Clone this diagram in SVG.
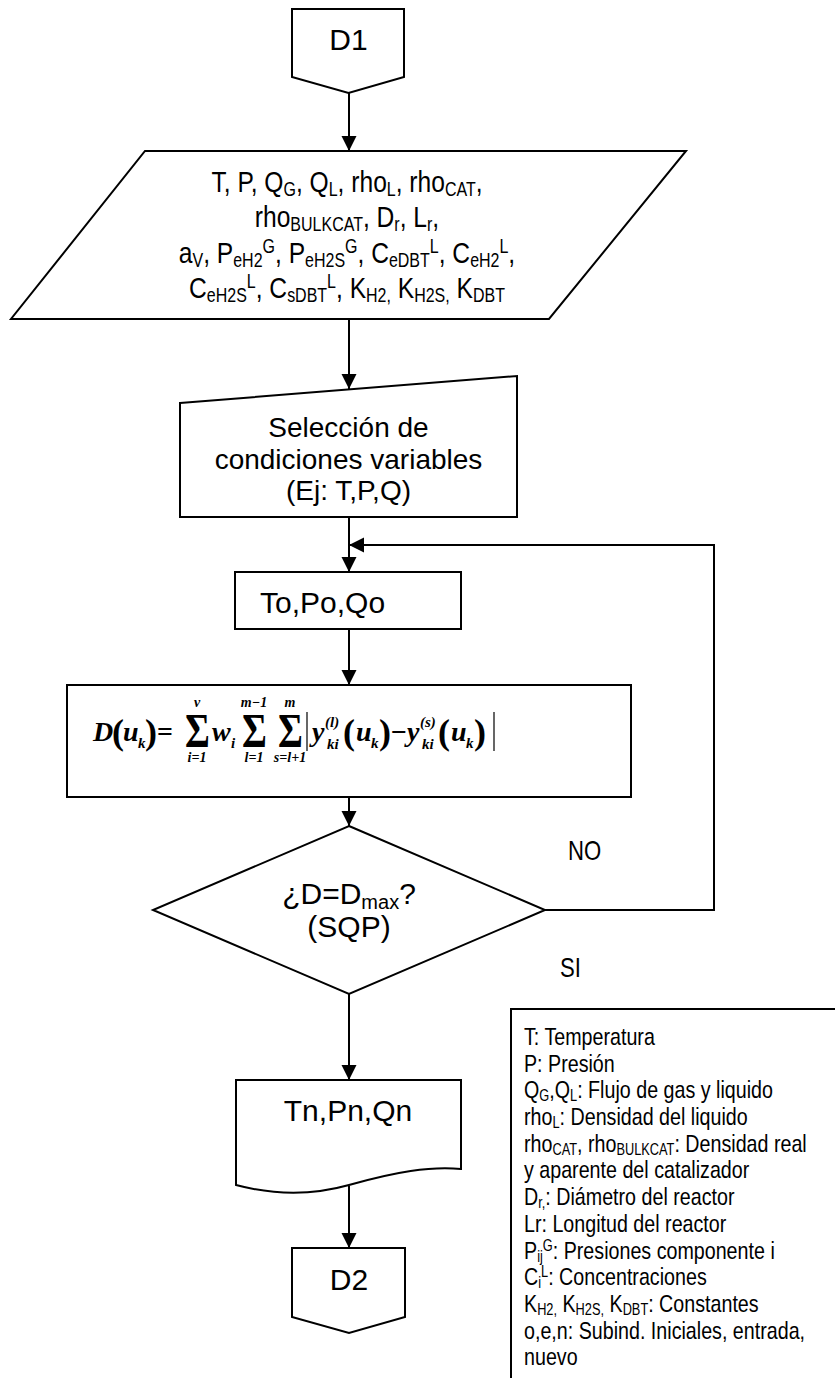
<svg xmlns="http://www.w3.org/2000/svg" width="835" height="1378" viewBox="0 0 835 1378">
  <defs>
    <marker id="arrow" markerUnits="userSpaceOnUse" markerWidth="16" markerHeight="16" refX="15" refY="7.5" orient="auto">
      <path d="M0,0 L15,7.5 L0,15 z" fill="#000"/>
    </marker>
    <style>
      .shape { fill: #fff; stroke: #000; stroke-width: 2; }
      .edge { fill: none; stroke: #000; stroke-width: 2; marker-end: url(#arrow); }
      .line { fill: none; stroke: #000; stroke-width: 2; }
      .bar { fill: none; stroke: #000; stroke-width: 1.2; }
      .t { font-family: "Liberation Sans", Arial, sans-serif; font-size: 30px; fill: #000; }
      .ts { font-family: "Liberation Sans", Arial, sans-serif; font-size: 28px; fill: #000; text-anchor: middle; }
      .n { font-family: "Liberation Sans", Arial, sans-serif; font-size: 30px; fill: #000; text-anchor: middle; }
      .lg { font-family: "Liberation Sans", Arial, sans-serif; font-size: 24px; fill: #000; }
      .lbl { font-family: "Liberation Sans", Arial, sans-serif; font-size: 27px; fill: #000; }
      .fm { font-family: "Liberation Serif", "Times New Roman", serif; font-weight: bold; font-style: italic; font-size: 28px; fill: #000; }
      .fu { font-family: "Liberation Serif", "Times New Roman", serif; font-weight: bold; font-size: 28px; fill: #000; }
      .sig { font-family: "Liberation Serif", "Times New Roman", serif; font-weight: bold; font-size: 38px; fill: #000; }
      .fp { font-family: "Liberation Serif", "Times New Roman", serif; font-weight: bold; font-size: 36px; fill: #000; }
      .fs { font-family: "Liberation Serif", "Times New Roman", serif; font-weight: bold; font-style: italic; font-size: 15px; fill: #000; }
      .lim { font-family: "Liberation Serif", "Times New Roman", serif; font-weight: bold; font-style: italic; font-size: 14px; fill: #000; text-anchor: middle; }
    </style>
  </defs>

  <!-- connectors -->
  <g id="connectors">
    <path class="edge" d="M349,93 V151"/>
    <path class="edge" d="M349,319 V389"/>
    <path class="edge" d="M349,517 V572"/>
    <path class="edge" d="M349,629 V685"/>
    <path class="edge" d="M349,797 V826"/>
    <path class="edge" d="M349,994 V1080"/>
    <path class="edge" d="M349,1186 V1248"/>
    <path class="edge" d="M545,910 H714 V545 H349"/>
  </g>

  <!-- off-page connector D1 -->
  <g id="d1">
    <path class="shape" d="M292,9 H404 V77 L348.5,93 L292,77 Z"/>
    <text class="n" x="348.5" y="50">D1</text>
  </g>

  <!-- input data -->
  <g id="input">
    <path class="shape" d="M145,151 H686 L549,319 H11 Z"/>
    <g transform="translate(347,0) scale(0.82,1)">
      <text class="n" x="0" y="192">T, P, Q<tspan dy="4" font-size="19.5">G</tspan><tspan dy="-4">, Q</tspan><tspan dy="4" font-size="19.5">L</tspan><tspan dy="-4">, rho</tspan><tspan dy="4" font-size="19.5">L</tspan><tspan dy="-4">, rho</tspan><tspan dy="4" font-size="19.5">CAT</tspan><tspan dy="-4">,</tspan></text>
      <text class="n" x="0" y="227.5">rho<tspan dy="4" font-size="19.5">BULKCAT</tspan><tspan dy="-4">, D</tspan><tspan dy="4" font-size="19.5">r</tspan><tspan dy="-4">, L</tspan><tspan dy="4" font-size="19.5">r</tspan><tspan dy="-4">,</tspan></text>
      <text class="n" x="0" y="263">a<tspan dy="4" font-size="19.5">V</tspan><tspan dy="-4">, P</tspan><tspan dy="4" font-size="19.5">eH2</tspan><tspan dy="-14" font-size="19.5">G</tspan><tspan dy="10">, P</tspan><tspan dy="4" font-size="19.5">eH2S</tspan><tspan dy="-14" font-size="19.5">G</tspan><tspan dy="10">, C</tspan><tspan dy="4" font-size="19.5">eDBT</tspan><tspan dy="-14" font-size="19.5">L</tspan><tspan dy="10">, C</tspan><tspan dy="4" font-size="19.5">eH2</tspan><tspan dy="-14" font-size="19.5">L</tspan><tspan dy="10">,</tspan></text>
      <text class="n" x="0" y="298.5">C<tspan dy="4" font-size="19.5">eH2S</tspan><tspan dy="-14" font-size="19.5">L</tspan><tspan dy="10">, C</tspan><tspan dy="4" font-size="19.5">sDBT</tspan><tspan dy="-14" font-size="19.5">L</tspan><tspan dy="10">, K</tspan><tspan dy="4" font-size="19.5">H2,</tspan><tspan dy="-4"> K</tspan><tspan dy="4" font-size="19.5">H2S,</tspan><tspan dy="-4"> K</tspan><tspan dy="4" font-size="19.5">DBT</tspan></text>
    </g>
  </g>

  <!-- manual selection -->
  <g id="seleccion">
    <path class="shape" d="M180,403 L517,376 V517 H180 Z"/>
    <text class="ts" x="348.5" y="437">Selección de</text>
    <text class="ts" x="348.5" y="468.5">condiciones variables</text>
    <text class="ts" x="348.5" y="500">(Ej: T,P,Q)</text>
  </g>

  <!-- initial values -->
  <g id="iniciales">
    <rect class="shape" x="235" y="572" width="226" height="57"/>
    <text class="t" x="260" y="613">To,Po,Qo</text>
  </g>

  <!-- objective function -->
  <g id="funcion">
    <rect class="shape" x="67" y="685" width="564" height="112"/>
    <text class="fm" x="93" y="741">D</text>
    <text class="fp" x="112" y="744">(</text>
    <text class="fm" x="123" y="741">u</text>
    <text class="fs" x="138" y="748">k</text>
    <text class="fp" x="145" y="744">)</text>
    <text class="fu" x="157" y="741">=</text>
    <text class="sig" transform="translate(185,747) scale(1,1.25)">Σ</text>
    <text class="lim" x="197" y="707">v</text>
    <text class="lim" x="197" y="762">i=1</text>
    <text class="fm" x="212" y="741">w</text>
    <text class="fs" x="231" y="748">i</text>
    <text class="sig" transform="translate(242,747) scale(1,1.25)">Σ</text>
    <text class="lim" x="254" y="707">m−1</text>
    <text class="lim" x="254" y="762">l=1</text>
    <text class="sig" transform="translate(278,747) scale(1,1.25)">Σ</text>
    <text class="lim" x="290" y="707">m</text>
    <text class="lim" x="290" y="762">s=l+1</text>
    <path class="bar" d="M307,712 V751"/>
    <text class="fm" x="312" y="741">y</text>
    <text class="fs" x="325" y="727">(l)</text>
    <text class="fs" x="327" y="749">ki</text>
    <text class="fp" x="343" y="744">(</text>
    <text class="fm" x="356" y="741">u</text>
    <text class="fs" x="371" y="748">k</text>
    <text class="fp" x="379" y="744">)</text>
    <text class="fu" x="391" y="741">−</text>
    <text class="fm" x="407" y="741">y</text>
    <text class="fs" x="420" y="727">(s)</text>
    <text class="fs" x="422" y="749">ki</text>
    <text class="fp" x="438" y="744">(</text>
    <text class="fm" x="451" y="741">u</text>
    <text class="fs" x="466" y="748">k</text>
    <text class="fp" x="474" y="744">)</text>
    <path class="bar" d="M494,712 V751"/>
  </g>

  <!-- decision -->
  <g id="decision">
    <path class="shape" d="M349,826 L545,910 L349,994 L153,910 Z"/>
    <text class="n" x="349" y="904">¿D=D<tspan dy="5" font-size="20">max</tspan><tspan dy="-5">?</tspan></text>
    <text class="n" x="349" y="937">(SQP)</text>
  </g>

  <g id="etiqueta-no">
    <text class="lbl" transform="translate(568,860) scale(0.82,1)">NO</text>
  </g>
  <g id="etiqueta-si">
    <text class="lbl" transform="translate(560,977) scale(0.82,1)">SI</text>
  </g>

  <!-- result document -->
  <g id="resultado">
    <path class="shape" d="M236,1080 H461 V1169 C430,1166 395,1172 349,1185 C310,1196 270,1194 236,1185 Z"/>
    <text class="n" x="348" y="1121">Tn,Pn,Qn</text>
  </g>

  <!-- off-page connector D2 -->
  <g id="d2">
    <path class="shape" d="M292,1248 H405 V1317 L349,1333 L292,1317 Z"/>
    <text class="n" x="349" y="1290">D2</text>
  </g>

  <!-- legend -->
  <g id="leyenda">
    <path class="line" d="M840,1009 H511 V1380"/>
    <g transform="translate(524,0) scale(0.82,1)">
      <text class="lg" x="0" y="1045">T: Temperatura</text>
      <text class="lg" x="0" y="1071.7">P: Presión</text>
      <text class="lg" x="0" y="1098.4">Q<tspan dy="3" font-size="15.6">G</tspan><tspan dy="-3">,Q</tspan><tspan dy="3" font-size="15.6">L</tspan><tspan dy="-3">: Flujo de gas y liquido</tspan></text>
      <text class="lg" x="0" y="1125.1">rho<tspan dy="3" font-size="15.6">L</tspan><tspan dy="-3">: Densidad del liquido</tspan></text>
      <text class="lg" x="0" y="1151.8">rho<tspan dy="3" font-size="15.6">CAT</tspan><tspan dy="-3">, rho</tspan><tspan dy="3" font-size="15.6">BULKCAT</tspan><tspan dy="-3">: Densidad real</tspan></text>
      <text class="lg" x="0" y="1178.5">y aparente del catalizador</text>
      <text class="lg" x="0" y="1205.2">D<tspan dy="3" font-size="15.6">r,</tspan><tspan dy="-3">: Diámetro del reactor</tspan></text>
      <text class="lg" x="0" y="1231.9">Lr: Longitud del reactor</text>
      <text class="lg" x="0" y="1258.6">P<tspan dy="3" font-size="15.6">ij</tspan><tspan dy="-11" font-size="15.6">G</tspan><tspan dy="8">: Presiones componente i</tspan></text>
      <text class="lg" x="0" y="1285.3">C<tspan dy="3" font-size="15.6">i</tspan><tspan dy="-11" font-size="15.6">L</tspan><tspan dy="8">: Concentraciones</tspan></text>
      <text class="lg" x="0" y="1312">K<tspan dy="3" font-size="15.6">H2,</tspan><tspan dy="-3"> K</tspan><tspan dy="3" font-size="15.6">H2S,</tspan><tspan dy="-3"> K</tspan><tspan dy="3" font-size="15.6">DBT</tspan><tspan dy="-3">: Constantes</tspan></text>
      <text class="lg" x="0" y="1338.7">o,e,n: Subind. Iniciales, entrada,</text>
      <text class="lg" x="0" y="1365.4">nuevo</text>
    </g>
  </g>
</svg>
